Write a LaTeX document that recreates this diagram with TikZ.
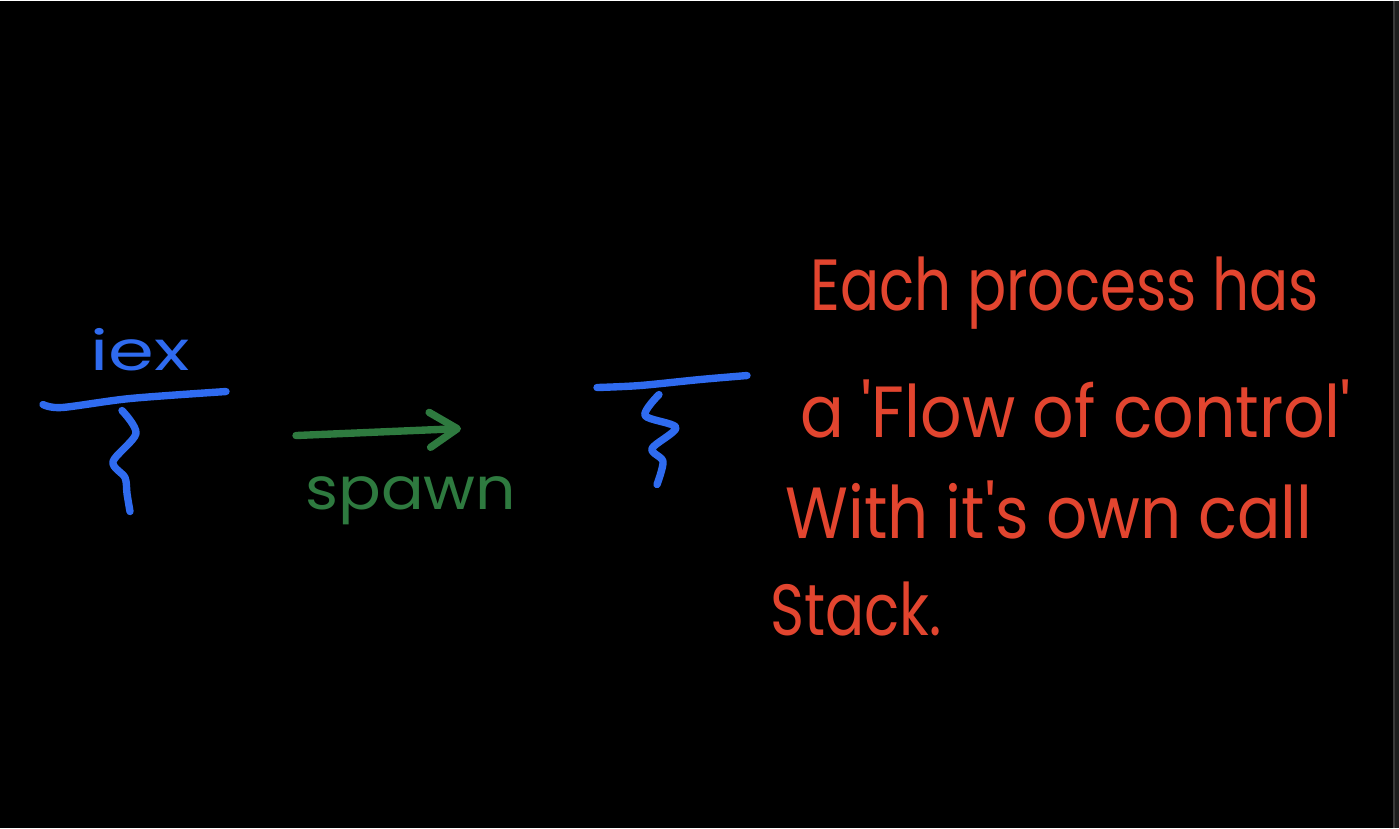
\documentclass[tikz,border=0pt]{standalone}
\usepackage{fontspec}
\setmainfont{Poppins}
\usetikzlibrary{arrows.meta}
\definecolor{Board}{HTML}{000000}
\definecolor{Edge}{HTML}{1E1E1E}
\definecolor{EdgeLine}{HTML}{3A3A3A}
\definecolor{PenBlue}{HTML}{2F6BF0}
\definecolor{PenGreen}{HTML}{2E7A3F}
\definecolor{PenRed}{HTML}{E2452F}
% handwriting is wider and taller than the font
\newcommand{\penline}[3]{\scalebox{#1}[#2]{#3}}

\begin{document}
\begin{tikzpicture}[x=0.02cm,y=-0.02cm,>=Latex]
  \tikzset{
    ink/.style={line width=4.2pt, line cap=round, line join=round},
    bluepen/.style={ink, draw=PenBlue},
    greenpen/.style={ink, draw=PenGreen},
    spawnarrow/.style={greenpen, -{Straight Barb[length=0.55cm,width=0.7cm,line width=4.2pt,round]}},
    proclabel/.style={font=\fontsize{30}{34}\selectfont, text=PenBlue, inner sep=0pt},
    arrowlabel/.style={font=\fontsize{30}{34}\selectfont, text=PenGreen, inner sep=0pt},
    note/.style={font=\fontsize{33}{38}\selectfont, text=PenRed, inner sep=0pt, anchor=base west}
  }

  % board
  \fill[Board] (0,0) rectangle (1399,827);
  \fill[Edge] (1394,0) rectangle (1399,827);
  \draw[EdgeLine, line width=0.6pt] (1394,0) -- (1394,827);
  \useasboundingbox (0,0) rectangle (1399,827);

  % first process: iex
  \node[proclabel, anchor=base] (iex) at (140,370) {\penline{1.4}{1.05}{iex}};
  \draw[bluepen] plot[smooth] coordinates {(43,404) (62,407) (130,398) (226,391)};
  \draw[bluepen] plot[smooth] coordinates {(122,410) (136,433) (113,461) (125,477) (127,493) (130,511)};

  % spawn
  \coordinate (spawnfrom) at (296,435);
  \coordinate (spawnto) at (461,428);
  \draw[spawnarrow] (spawnfrom) -- (spawnto);
  \node[arrowlabel, anchor=base west] (spawn) at (305,509) {\penline{1.2}{1.12}{spawn}};

  % second process
  \draw[bluepen] plot[smooth] coordinates {(597,387) (640,385) (700,379) (747,375)};
  \draw[bluepen] plot[smooth] coordinates {(659,394) (645,415) (676,427) (652,448) (663,461) (657,484)};

  % note
  \node[note] (line1) at (810,310) {\penline{1.0}{1.25}{Each process has}};
  \node[note] (line2) at (800,437) {\penline{1.12}{1.25}{a \textquotesingle Flow of control\textquotesingle}};
  \node[note] (line3) at (785,538) {\penline{1.11}{1.25}{With it\textquotesingle s own call}};
  \node[note] (line4) at (770,635) {\penline{1.0}{1.25}{Stack.}};
\end{tikzpicture}
\end{document}
